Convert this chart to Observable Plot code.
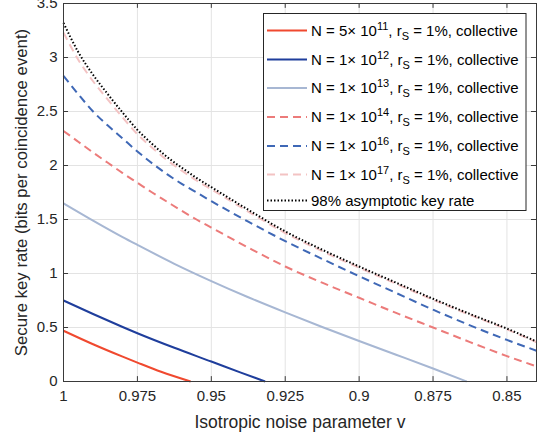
<!DOCTYPE html>
<html>
<head>
<meta charset="utf-8">
<script src="https://cdn.jsdelivr.net/npm/d3@7"></script>
<script src="https://cdn.jsdelivr.net/npm/@observablehq/plot@0.6"></script>
<style>
  html, body { margin: 0; padding: 0; background: #fff; }
  #chart svg { display: block; }
</style>
</head>
<body>
<div id="chart"></div>
<script>
// ---------- data ----------
const xTicks = [1, 0.975, 0.95, 0.925, 0.9, 0.875, 0.85];
const xTickLabels = ["1", "0.975", "0.95", "0.925", "0.9", "0.875", "0.85"];
const yTicks = [0, 0.5, 1, 1.5, 2, 2.5, 3, 3.5];
const yTickLabels = ["0", "0.5", "1", "1.5", "2", "2.5", "3", "3.5"];

const vRed = [1, 0.99, 0.98, 0.975, 0.967, 0.957];
const rateRed = [0.47, 0.345, 0.23, 0.175, 0.09, 0];

const vBlue = [1, 0.99, 0.98, 0.975, 0.9625, 0.95, 0.94, 0.9318];
const rateBlue = [0.75, 0.625, 0.505, 0.447, 0.312, 0.185, 0.082, 0];

const vLightBlue = [1, 0.99, 0.98, 0.975, 0.9625, 0.95, 0.9375, 0.925, 0.9125, 0.9, 0.8875, 0.875, 0.8636];
const rateLightBlue = [1.65, 1.49, 1.337, 1.265, 1.09, 0.93, 0.78, 0.64, 0.505, 0.375, 0.248, 0.12, 0];

const vGrid = [1, 0.995, 0.99, 0.985, 0.98, 0.975, 0.97, 0.965, 0.96, 0.955, 0.95, 0.9375, 0.925, 0.9125, 0.9, 0.8875, 0.875, 0.8625, 0.85, 0.84];
const rateRedDash  = [2.32, 2.22, 2.12, 2.025, 1.93, 1.84, 1.75, 1.665, 1.58, 1.50, 1.425, 1.24, 1.065, 0.915, 0.775, 0.635, 0.50, 0.365, 0.235, 0.14];
const rateBlueDash = [2.83, 2.66, 2.50, 2.37, 2.25, 2.13, 2.02, 1.92, 1.83, 1.75, 1.67, 1.48, 1.30, 1.135, 0.975, 0.82, 0.665, 0.52, 0.385, 0.285];
const ratePinkDash = [3.23, 2.98, 2.78, 2.61, 2.445, 2.29, 2.165, 2.05, 1.953, 1.861, 1.78, 1.573, 1.375, 1.207, 1.054, 0.905, 0.757, 0.617, 0.483, 0.364];
const rateAsym     = [3.32, 3.05, 2.84, 2.66, 2.49, 2.33, 2.20, 2.08, 1.98, 1.885, 1.80, 1.59, 1.39, 1.22, 1.065, 0.915, 0.766, 0.625, 0.49, 0.37];

const seriesNames = [
  {mant: "5", exp: "11"},
  {mant: "1", exp: "12"},
  {mant: "1", exp: "13"},
  {mant: "1", exp: "14"},
  {mant: "1", exp: "16"},
  {mant: "1", exp: "17"}
];
const asymName = "98% asymptotic key rate";
const xLabel = "Isotropic noise parameter v";
const yLabel = "Secure key rate (bits per coincidence event)";

// ---------- styles ----------
const styles = [
  {stroke: "#f0492f", dash: null},
  {stroke: "#1f3e9c", dash: null},
  {stroke: "#a7b7d3", dash: null},
  {stroke: "#ec7b7a", dash: "8,5"},
  {stroke: "#3f68b6", dash: "8,5"},
  {stroke: "#f3c3c3", dash: "8,5"}
];
const asymStyle = {stroke: "#000", dash: "1.5,2"};

const zip = (xs, ys, s) => xs.map((x, i) => ({v: x, r: ys[i], s}));
const series = [
  zip(vRed, rateRed, 0),
  zip(vBlue, rateBlue, 1),
  zip(vLightBlue, rateLightBlue, 2),
  zip(vGrid, rateRedDash, 3),
  zip(vGrid, rateBlueDash, 4),
  zip(vGrid, ratePinkDash, 5)
];
const asym = zip(vGrid, rateAsym, 6);

const axisColor = "#3a3a3a";
const font = "'Liberation Sans', Arial, Helvetica, sans-serif";

const lineMarks = [];
series.forEach((d, i) => {
  lineMarks.push(Plot.line(d, {x: "v", y: "r", stroke: styles[i].stroke, strokeWidth: 2,
    strokeDasharray: styles[i].dash || undefined, strokeLinecap: "butt", curve: "monotone-x"}));
});
lineMarks.push(Plot.line(asym, {x: "v", y: "r", stroke: asymStyle.stroke, strokeWidth: 2,
  strokeDasharray: asymStyle.dash, strokeLinecap: "butt", curve: "monotone-x"}));

const tickLenX = 0.0017; // inward tick length in data units
const tickLenY = 0.045;

const plot = Plot.plot({
  width: 539,
  height: 436,
  marginLeft: 63,
  marginRight: 3,
  marginTop: 3,
  marginBottom: 55,
  style: {fontFamily: font, fontSize: "15px", color: "#262626", background: "#fff", overflow: "visible"},
  x: {domain: [1, 0.84], label: null},
  y: {domain: [0, 3.5], label: null},
  marks: [
    Plot.gridX(xTicks, {stroke: "#e3e3e3", strokeOpacity: 1, strokeWidth: 1}),
    Plot.gridY(yTicks, {stroke: "#e3e3e3", strokeOpacity: 1, strokeWidth: 1}),
    ...lineMarks,
    // inward ticks
    Plot.ruleX(xTicks, {x: d => d, y1: 0, y2: tickLenY, stroke: axisColor}),
    Plot.ruleX(xTicks, {x: d => d, y1: 3.5, y2: 3.5 - tickLenY, stroke: axisColor}),
    Plot.ruleY(yTicks, {y: d => d, x1: 1, x2: 1 - tickLenX, stroke: axisColor}),
    Plot.ruleY(yTicks, {y: d => d, x1: 0.84, x2: 0.84 + tickLenX, stroke: axisColor}),
    Plot.frame({stroke: axisColor, strokeWidth: 1}),
    Plot.axisX(xTicks, {tickSize: 0, tickPadding: 9, tickFormat: (d, i) => xTickLabels[i], fontSize: 15, label: null}),
    Plot.axisY(yTicks, {tickSize: 0, tickPadding: 6, tickFormat: (d, i) => yTickLabels[i], fontSize: 15, label: null}),
    Plot.text([xLabel], {frameAnchor: "bottom", dy: 46, fontSize: 17.5, fill: "#262626", textAnchor: "middle"}),
    Plot.text([yLabel], {frameAnchor: "left", dx: -42, rotate: -90, fontSize: 16.8, fill: "#262626", textAnchor: "middle"})
  ]
});

document.getElementById("chart").appendChild(plot);

// ---------- legend ----------
const svg = d3.select(plot);
const lg = svg.append("g").attr("font-family", font).attr("font-size", 15)
  .attr("fill", "#000").attr("text-anchor", "start");
const box = {x: 263.5, y: 13.5, w: 262.5, h: 197};
lg.append("rect").attr("x", box.x).attr("y", box.y).attr("width", box.w).attr("height", box.h)
  .attr("fill", "#fff").attr("stroke", "#262626").attr("stroke-width", 1);
const rowY = [30.5, 59.5, 88, 117, 146, 174.5, 200.5];
const lx1 = 267, lx2 = 307, tx = 311;
seriesNames.forEach((n, i) => {
  const y = rowY[i];
  lg.append("line").attr("x1", lx1).attr("x2", lx2).attr("y1", y).attr("y2", y)
    .attr("stroke", styles[i].stroke).attr("stroke-width", 2)
    .attr("stroke-dasharray", styles[i].dash);
  const t = lg.append("text").attr("x", tx).attr("y", y + 5);
  t.append("tspan").text(`N = ${n.mant}\u00d7 10`);
  t.append("tspan").attr("dy", -6).attr("font-size", 11).text(n.exp);
  t.append("tspan").attr("dy", 6).text(", r");
  t.append("tspan").attr("dy", 4).attr("font-size", 11).text("S");
  t.append("tspan").attr("dy", -4).text(" = 1%, collective");
});
{
  const y = rowY[6];
  lg.append("line").attr("x1", lx1).attr("x2", lx2).attr("y1", y).attr("y2", y)
    .attr("stroke", "#000").attr("stroke-width", 2).attr("stroke-dasharray", asymStyle.dash);
  lg.append("text").attr("x", tx).attr("y", y + 5).text(asymName);
}
</script>
</body>
</html>
